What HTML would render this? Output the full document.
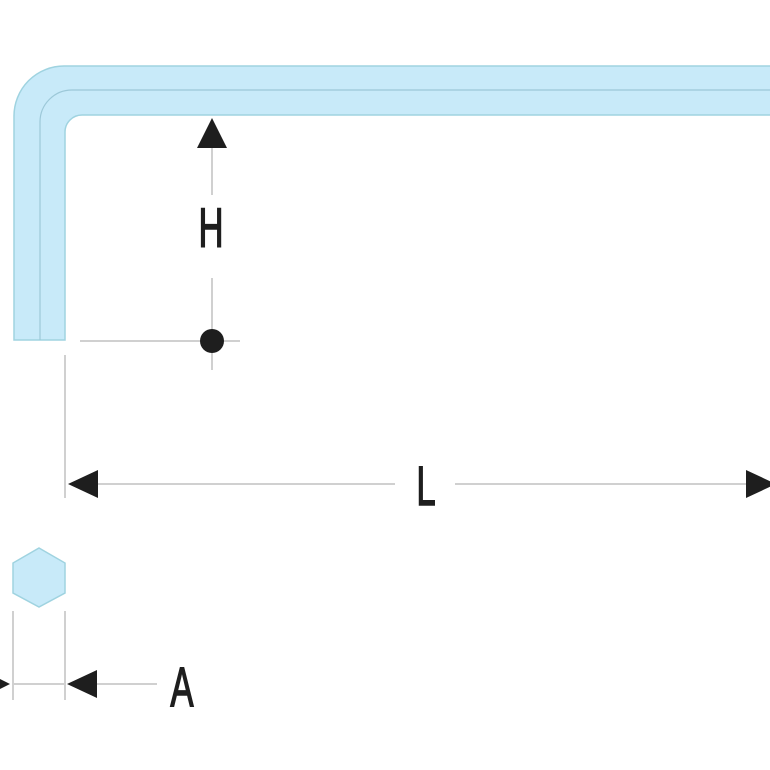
<!DOCTYPE html>
<html><head><style>html,body{margin:0;padding:0;background:#fff;width:770px;height:770px;overflow:hidden}</style></head>
<body>
<svg width="770" height="770" viewBox="0 0 770 770" xmlns="http://www.w3.org/2000/svg">
<rect width="770" height="770" fill="#fff"/>
<path d="M14,340 L14,116 A50,50 0 0 1 64,66 L775,66 L775,115 L82,115 A17,17 0 0 0 65,132 L65,340 Z" fill="#c8eaf9" stroke="#9fd3e0" stroke-width="1.5"/>
<path d="M40,340 L40,122 A32,32 0 0 1 72,90 L775,90" fill="none" stroke="#9cc8d8" stroke-width="1.2"/>
<polygon points="212,118 197,148 227,148" fill="#1e1e1e"/>
<line x1="212" y1="148" x2="212" y2="195" stroke="#d0d0d0" stroke-width="2"/>
<line x1="212" y1="278" x2="212" y2="370" stroke="#d0d0d0" stroke-width="2"/>
<line x1="80" y1="341" x2="240" y2="341" stroke="#d0d0d0" stroke-width="2"/>
<circle cx="212" cy="341" r="12" fill="#1e1e1e"/>
<text x="0" y="0" transform="translate(211,247) scale(0.62,1)" font-family="Liberation Sans, sans-serif" font-size="56" text-anchor="middle" fill="#1e1e1e" stroke="#1e1e1e" stroke-width="1.5">H</text>
<line x1="65" y1="355" x2="65" y2="498" stroke="#d0d0d0" stroke-width="2"/>
<polygon points="68,484 98,470 98,498" fill="#1e1e1e"/>
<line x1="98" y1="484" x2="395" y2="484" stroke="#d0d0d0" stroke-width="2"/>
<line x1="455" y1="484" x2="746" y2="484" stroke="#d0d0d0" stroke-width="2"/>
<polygon points="776,484 746,470 746,498" fill="#1e1e1e"/>
<text x="0" y="0" transform="translate(426,505) scale(0.62,1)" font-family="Liberation Sans, sans-serif" font-size="56" text-anchor="middle" fill="#1e1e1e" stroke="#1e1e1e" stroke-width="1.5">L</text>
<polygon points="39,548 65,563 65,593 39,607 13,593 13,563" fill="#c8eaf9" stroke="#9fd3e0" stroke-width="1.5"/>
<line x1="13" y1="611" x2="13" y2="700" stroke="#d0d0d0" stroke-width="2"/>
<line x1="65" y1="611" x2="65" y2="700" stroke="#d0d0d0" stroke-width="2"/>
<line x1="13" y1="684" x2="65" y2="684" stroke="#d0d0d0" stroke-width="2"/>
<polygon points="10,684 -18,670 -18,698" fill="#1e1e1e"/>
<polygon points="67,684 97,670 97,698" fill="#1e1e1e"/>
<line x1="97" y1="684" x2="157" y2="684" stroke="#d0d0d0" stroke-width="2"/>
<text x="0" y="0" transform="translate(182,706) scale(0.62,1)" font-family="Liberation Sans, sans-serif" font-size="56" text-anchor="middle" fill="#1e1e1e" stroke="#1e1e1e" stroke-width="1.5">A</text>
</svg>
</body></html>
